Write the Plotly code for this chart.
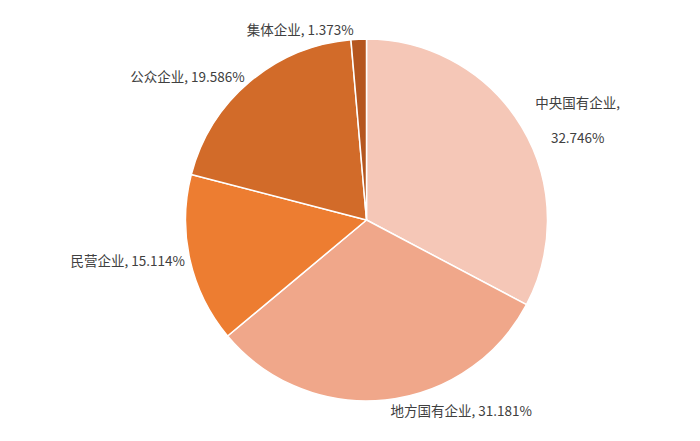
import plotly.graph_objects as go

labels = ["中央国有企业", "地方国有企业", "民营企业", "公众企业", "集体企业"]
values = [32.746, 31.181, 15.114, 19.586, 1.373]
texts = ["中央国有企业,<br> <br>32.746%", "地方国有企业, 31.181%", "民营企业, 15.114%", "公众企业, 19.586%", "集体企业, 1.373%"]
colors = ["#F5C7B7", "#F0A78A", "#ED7D31", "#D26B29", "#B5561F"]

fig = go.Figure(go.Pie(
    labels=labels, values=values, text=texts, textinfo="text",
    textposition="outside", sort=False, direction="clockwise", rotation=0,
    marker=dict(colors=colors, line=dict(color="white", width=1.5)),
    textfont=dict(size=13.5, color="#404040", family="Noto Sans CJK SC"),
    showlegend=False,
))
fig.update_layout(
    width=700, height=441, paper_bgcolor="white",
    margin=dict(l=68, r=132, t=31, b=48),
    font=dict(family="Noto Sans CJK SC"),
)
fig.write_html("out.html")
